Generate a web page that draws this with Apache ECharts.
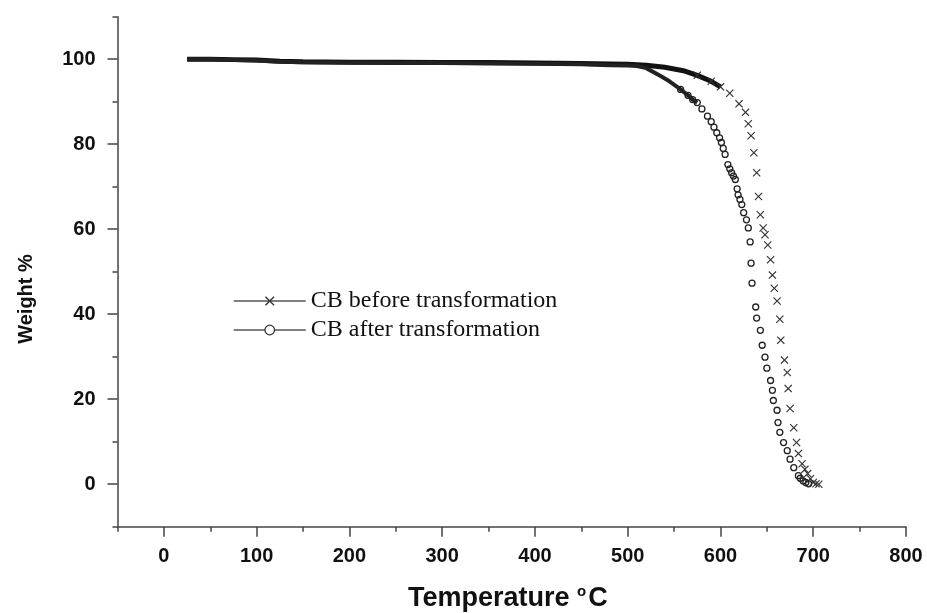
<!DOCTYPE html>
<html>
<head>
<meta charset="utf-8">
<script src="https://cdn.jsdelivr.net/npm/echarts@6/dist/echarts.min.js"></script>
<style>
  html, body { margin: 0; padding: 0; background: #fff; }
  #chart { width: 927px; height: 613px; }
</style>
</head>
<body>
<div id="chart"></div>
<script>
// TGA data: temperature (°C) / weight (%)
const beforeT = [25, 50, 75, 100, 125, 150, 200, 250, 300, 350, 400, 450, 480, 500, 520, 540, 560, 575, 590, 600, 610, 620, 627, 630, 633, 636, 639, 641, 643, 646, 648, 651, 654, 656, 658, 661, 664, 665, 669, 672, 673, 675, 679, 682, 684, 688, 691, 694, 697, 700, 703, 706];
const beforeW = [100, 100, 99.9, 99.8, 99.5, 99.4, 99.3, 99.3, 99.2, 99.2, 99.1, 99.0, 98.9, 98.8, 98.6, 98.1, 97.3, 96.2, 94.8, 93.5, 92.0, 89.5, 87.5, 84.8, 82.0, 78.0, 73.3, 67.7, 63.4, 60.3, 58.7, 56.3, 52.8, 49.2, 46.1, 43.1, 38.8, 33.9, 29.2, 26.3, 22.5, 17.8, 13.3, 9.8, 7.2, 4.8, 3.5, 2.5, 1.3, 0.4, 0.1, 0];

const afterT = [25, 50, 75, 100, 125, 150, 200, 250, 300, 350, 400, 450, 480, 500, 510, 520, 535, 545, 557, 565, 570, 575, 580, 586, 590, 593, 596, 599, 601, 603, 605, 608, 610, 612, 614, 616, 618, 619, 621, 623, 625, 628, 630, 632, 633, 634, 638, 639, 643, 645, 648, 650, 654, 656, 657, 661, 662, 664, 668, 672, 675, 679, 684, 686, 689, 692, 695];
const afterW = [100, 100, 99.8, 99.7, 99.4, 99.3, 99.2, 99.1, 99.1, 99.0, 98.9, 98.8, 98.6, 98.5, 98.4, 97.9, 96.1, 94.8, 92.9, 91.5, 90.5, 89.8, 88.3, 86.6, 85.3, 84.0, 82.7, 81.5, 80.4, 79.0, 77.6, 75.2, 74.2, 73.3, 72.5, 71.7, 69.5, 68.1, 67.0, 65.8, 63.9, 62.2, 60.3, 57.0, 52.0, 47.3, 41.7, 39.1, 36.2, 32.7, 29.9, 27.3, 24.4, 22.1, 19.7, 17.4, 14.5, 12.2, 9.8, 7.9, 5.9, 3.9, 2.0, 1.4, 0.8, 0.4, 0.1];

const seriesNames = ['CB before transformation', 'CB after transformation'];

// axis ticks
const xMajor = [0, 100, 200, 300, 400, 500, 600, 700, 800];
const xMinor = [-50, 50, 150, 250, 350, 450, 550, 650, 750];
const yMajor = [0, 20, 40, 60, 80, 100];
const yMinor = [-10, 10, 30, 50, 70, 90, 110];

// where the markers pile up into a solid band
const beforeBandEnd = 600, beforeMarkStart = 575;
const afterBandEnd = 575, afterMarkStart = 557;

function pairs(t, w, from, to) {
  const out = [];
  for (let i = 0; i < t.length; i++) {
    if (t[i] >= from && t[i] <= to) out.push([t[i], w[i]]);
  }
  return out;
}

const crossPath = 'path://M0,1L1,0L5,4L9,0L10,1L6,5L10,9L9,10L5,6L1,10L0,9L4,5Z';
const tickFont = { fontFamily: 'Liberation Sans', fontWeight: 'bold', fontSize: 20, color: '#111' };
const tickLine = { color: '#444', width: 1.5 };

const chart = echarts.init(document.getElementById('chart'));

const option = {
  animation: false,
  backgroundColor: '#fff',
  grid: { left: 117.5, right: 21, top: 16.7, bottom: 86.3 },
  legend: {
    left: 228, top: 284, orient: 'vertical',
    itemWidth: 72, itemHeight: 12, itemGap: 5,
    textStyle: { fontFamily: 'Liberation Serif', fontSize: 24, color: '#111' },
    lineStyle: { color: '#555', width: 1.5, opacity: 1 },
    data: [
      { name: seriesNames[0], itemStyle: { color: '#333' } },
      { name: seriesNames[1], itemStyle: { color: '#fff', borderColor: '#333', borderWidth: 1.3 } }
    ]
  },
  xAxis: [{
    type: 'value', min: -50, max: 800,
    axisLine: { onZero: false, lineStyle: tickLine },
    axisTick: { customValues: xMajor, length: 10, lineStyle: tickLine },
    axisLabel: Object.assign({ customValues: xMajor, margin: 20 }, tickFont),
    splitLine: { show: false }
  }, {
    type: 'value', min: -50, max: 800, position: 'bottom',
    axisLine: { show: false, onZero: false },
    axisTick: { customValues: xMinor, length: 5, lineStyle: tickLine },
    axisLabel: { show: false },
    splitLine: { show: false }
  }],
  yAxis: [{
    type: 'value', min: -10, max: 110,
    axisLine: { show: true, onZero: false, lineStyle: tickLine },
    axisTick: { show: true, customValues: yMajor, length: 10, lineStyle: tickLine },
    axisLabel: Object.assign({ customValues: yMajor, margin: 22 }, tickFont),
    splitLine: { show: false }
  }, {
    type: 'value', min: -10, max: 110, position: 'left',
    axisLine: { show: false, onZero: false },
    axisTick: { show: true, customValues: yMinor, length: 5, lineStyle: tickLine },
    axisLabel: { show: false },
    splitLine: { show: false }
  }],
  graphic: [{
    type: 'text', left: 408, top: 584,
    style: {
      text: 'Temperature {sup|o}C',
      rich: { sup: { fontSize: 15, fontWeight: 'bold', fontFamily: 'Liberation Sans', padding: [0, 2, 14, 0] } },
      font: 'bold 27px "Liberation Sans"', fill: '#111'
    }
  }, {
    type: 'text', x: 26, y: 299, rotation: Math.PI / 2,
    style: {
      text: 'Weight %', align: 'center', verticalAlign: 'middle',
      font: 'bold 20px "Liberation Sans"', fill: '#111'
    }
  }],
  series: [
    {
      name: 'bandBefore', type: 'line', silent: true, showSymbol: false,
      data: pairs(beforeT, beforeW, 0, beforeBandEnd),
      lineStyle: { color: '#111', width: 5 }, z: 2
    },
    {
      name: 'bandAfter', type: 'line', silent: true, showSymbol: false,
      data: pairs(afterT, afterW, 0, afterBandEnd),
      lineStyle: { color: '#222', width: 4 }, z: 2
    },
    {
      name: seriesNames[0], type: 'line', showAllSymbol: true,
      data: pairs(beforeT, beforeW, beforeMarkStart, 1000),
      symbol: crossPath, symbolSize: 8,
      itemStyle: { color: '#333' },
      lineStyle: { opacity: 0 }, z: 3
    },
    {
      name: seriesNames[1], type: 'line', showAllSymbol: true,
      data: pairs(afterT, afterW, afterMarkStart, 1000),
      symbol: 'circle', symbolSize: 6,
      itemStyle: { color: 'transparent', borderColor: '#222', borderWidth: 1.3 },
      lineStyle: { opacity: 0 }, z: 3
    }
  ]
};

chart.setOption(option);
</script>
</body>
</html>
